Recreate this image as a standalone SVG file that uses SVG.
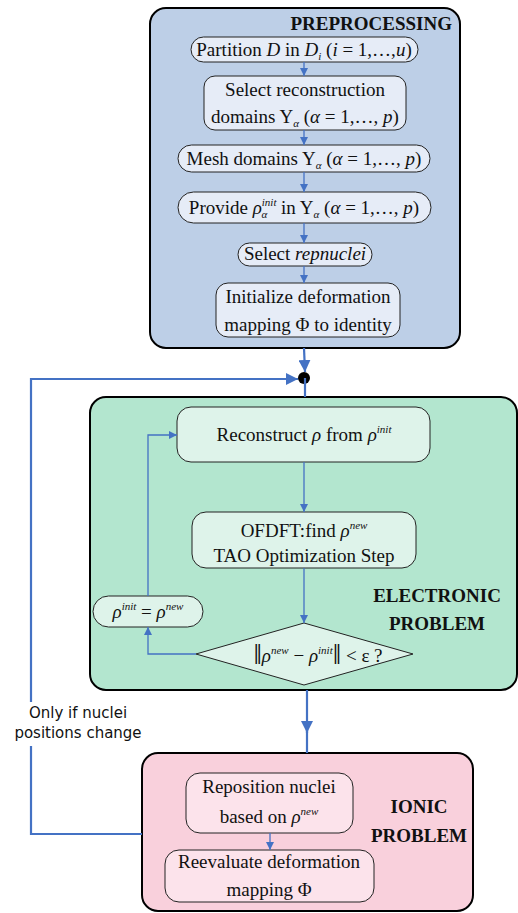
<svg xmlns="http://www.w3.org/2000/svg" width="518" height="913" viewBox="0 0 518 913">
<defs>
<marker id="ah" viewBox="0 0 10 10" refX="10" refY="5" markerWidth="8" markerHeight="8" markerUnits="userSpaceOnUse" orient="auto"><path d="M0,0 L10,5 L0,10 z" fill="#4472c4"/></marker>
<marker id="ahb" viewBox="0 0 10 10" refX="10" refY="5" markerWidth="12" markerHeight="12" markerUnits="userSpaceOnUse" orient="auto"><path d="M0,0 L10,5 L0,10 z" fill="#4472c4"/></marker>
<style>
.t{font-family:"Liberation Serif","Times New Roman",serif;font-size:19px;fill:#111;text-anchor:middle}
.b{font-family:"Liberation Serif","Times New Roman",serif;font-size:19px;font-weight:bold;fill:#111;text-anchor:middle}
.i{font-style:italic}
.s{font-size:11px;font-style:italic}
.big{fill:none;stroke:#000;stroke-width:2}
.n{stroke:#222;stroke-width:1}
.pre{fill:#bdcfe7}
.preN{fill:#e6ecf7}
.ele{fill:#b3e6cf}
.eleN{fill:#def3ea}
.ion{fill:#f9d0dc}
.ionN{fill:#fce3eb}
.c{fill:none;stroke:#4472c4;stroke-width:1.3}
.ct{fill:none;stroke:#4472c4;stroke-width:2.2}
.lbl{font-family:"DejaVu Sans",Verdana,sans-serif;font-size:15px;fill:#111;text-anchor:middle}
</style>
</defs>

<g id="preprocessing">
<rect class="big pre" x="150" y="8" width="310" height="340" rx="16"/>
<text class="b" x="452" y="30" style="text-anchor:end">PREPROCESSING</text>
</g>
<g id="partition">
<rect class="n preN" x="191" y="37" width="227" height="25" rx="12.5"/>
<text class="t" x="304" y="56">Partition <tspan class="i">D</tspan> in <tspan class="i">D</tspan><tspan class="s" dy="4">i</tspan><tspan dy="-4"> (</tspan><tspan class="i">i</tspan> = 1,…,<tspan class="i">u</tspan>)</text>
</g>
<g id="select-domains">
<rect class="n preN" x="204" y="76" width="202" height="54" rx="11"/>
<text class="t" x="305" y="96">Select reconstruction</text>
<text class="t" x="305" y="123">domains Y<tspan class="s" dy="4">α</tspan><tspan dy="-4">  (</tspan><tspan class="i">α</tspan> = 1,…, <tspan class="i">p</tspan>)</text>
</g>
<g id="mesh">
<rect class="n preN" x="178" y="145" width="252" height="27" rx="13.5"/>
<text class="t" x="304" y="165">Mesh domains Y<tspan class="s" dy="4">α</tspan><tspan dy="-4">  (</tspan><tspan class="i">α</tspan> = 1,…, <tspan class="i">p</tspan>)</text>
</g>
<g id="provide">
<rect class="n preN" x="178" y="192" width="253" height="31" rx="15.5"/>
<text class="t" x="304" y="214">Provide <tspan class="i">ρ</tspan><tspan class="s" dy="-8">init</tspan><tspan class="s" dx="-15" dy="12">α</tspan><tspan dy="-4" dx="9">  in Y</tspan><tspan class="s" dy="4">α</tspan><tspan dy="-4">  (</tspan><tspan class="i">α</tspan> = 1,…, <tspan class="i">p</tspan>)</text>
</g>
<g id="repnuclei">
<rect class="n preN" x="238" y="243" width="134" height="23" rx="11.5"/>
<text class="t" x="305" y="260">Select <tspan class="i">repnuclei</tspan></text>
</g>
<g id="initialize">
<rect class="n preN" x="216" y="283" width="184" height="54" rx="12"/>
<text class="t" x="308" y="303">Initialize deformation</text>
<text class="t" x="308" y="331">mapping Φ to identity</text>
</g>

<g id="electronic">
<rect class="big ele" x="90" y="397" width="427" height="293" rx="16"/>
<text class="b" x="437" y="602">ELECTRONIC</text>
<text class="b" x="437" y="630">PROBLEM</text>
</g>
<g id="reconstruct">
<rect class="n eleN" x="177" y="407" width="253" height="55" rx="14"/>
<text class="t" x="304" y="441">Reconstruct <tspan class="i">ρ</tspan> from <tspan class="i">ρ</tspan><tspan class="s" dy="-8">init</tspan></text>
</g>
<g id="ofdft">
<rect class="n eleN" x="192" y="512" width="224" height="56" rx="14"/>
<text class="t" x="304" y="537">OFDFT:find <tspan class="i">ρ</tspan><tspan class="s" dy="-8">new</tspan></text>
<text class="t" x="304" y="562">TAO Optimization Step</text>
</g>
<g id="convergence">
<polygon class="n eleN" points="304,623 413,654 304,685 196,654"/>
<text class="t" x="318" y="662"><tspan style="font-size:30px" dy="2">‖</tspan><tspan class="i" dy="-2">ρ</tspan><tspan class="s" dy="-8">new</tspan><tspan dy="8"> − </tspan><tspan class="i">ρ</tspan><tspan class="s" dy="-8">init</tspan><tspan dy="10" style="font-size:30px">‖</tspan><tspan dy="-2"> &lt; ε   ?</tspan></text>
</g>
<g id="update">
<rect class="n eleN" x="93" y="596" width="110" height="31" rx="15.5"/>
<text class="t" x="148" y="618"><tspan class="i">ρ</tspan><tspan class="s" dy="-8">init</tspan><tspan dy="8"> = </tspan><tspan class="i">ρ</tspan><tspan class="s" dy="-8">new</tspan></text>
</g>

<g id="ionic">
<rect class="big ion" x="142" y="753" width="331" height="158" rx="16"/>
<text class="b" x="419" y="813">IONIC</text>
<text class="b" x="419" y="842">PROBLEM</text>
</g>
<g id="reposition">
<rect class="n ionN" x="186" y="773" width="167" height="60" rx="14"/>
<text class="t" x="269" y="793">Reposition nuclei</text>
<text class="t" x="269" y="823">based on <tspan class="i">ρ</tspan><tspan class="s" dy="-8">new</tspan></text>
</g>
<g id="reevaluate">
<rect class="n ionN" x="165" y="850" width="209" height="52" rx="14"/>
<text class="t" x="269" y="868">Reevaluate deformation</text>
<text class="t" x="269" y="896">mapping Φ</text>
</g>

<g id="connectors">
<line class="c" x1="304" y1="62" x2="304" y2="76" marker-end="url(#ah)"/>
<line class="c" x1="304" y1="130" x2="304" y2="145" marker-end="url(#ah)"/>
<line class="c" x1="304" y1="172" x2="304" y2="192" marker-end="url(#ah)"/>
<line class="c" x1="304" y1="223" x2="304" y2="243" marker-end="url(#ah)"/>
<line class="c" x1="304" y1="266" x2="304" y2="283" marker-end="url(#ah)"/>
<line class="ct" x1="304" y1="348" x2="305" y2="372" marker-end="url(#ahb)"/>
<polyline class="ct" points="142,834 31,834 31,379 298,379" marker-end="url(#ahb)"/>
<circle cx="304" cy="378" r="6" fill="#000"/>
<line class="ct" x1="305" y1="378" x2="305" y2="397"/>
<line class="c" x1="304" y1="462" x2="304" y2="512" marker-end="url(#ah)"/>
<line class="c" x1="304" y1="568" x2="304" y2="623" marker-end="url(#ah)"/>
<polyline class="c" points="196,654 148,654 148,627" marker-end="url(#ah)"/>
<polyline class="c" points="148,596 148,435 177,435" marker-end="url(#ah)"/>
<line class="ct" x1="307" y1="690" x2="307" y2="733" marker-end="url(#ahb)"/>
<line class="ct" x1="307" y1="725" x2="307" y2="753"/>
<line class="c" x1="270" y1="833" x2="270" y2="850" marker-end="url(#ah)"/>
<rect x="8" y="702" width="144" height="44" fill="#fff"/>
<text class="lbl" x="78" y="718">Only if nuclei</text>
<text class="lbl" x="78" y="738">positions change</text>
</g>
</svg>
